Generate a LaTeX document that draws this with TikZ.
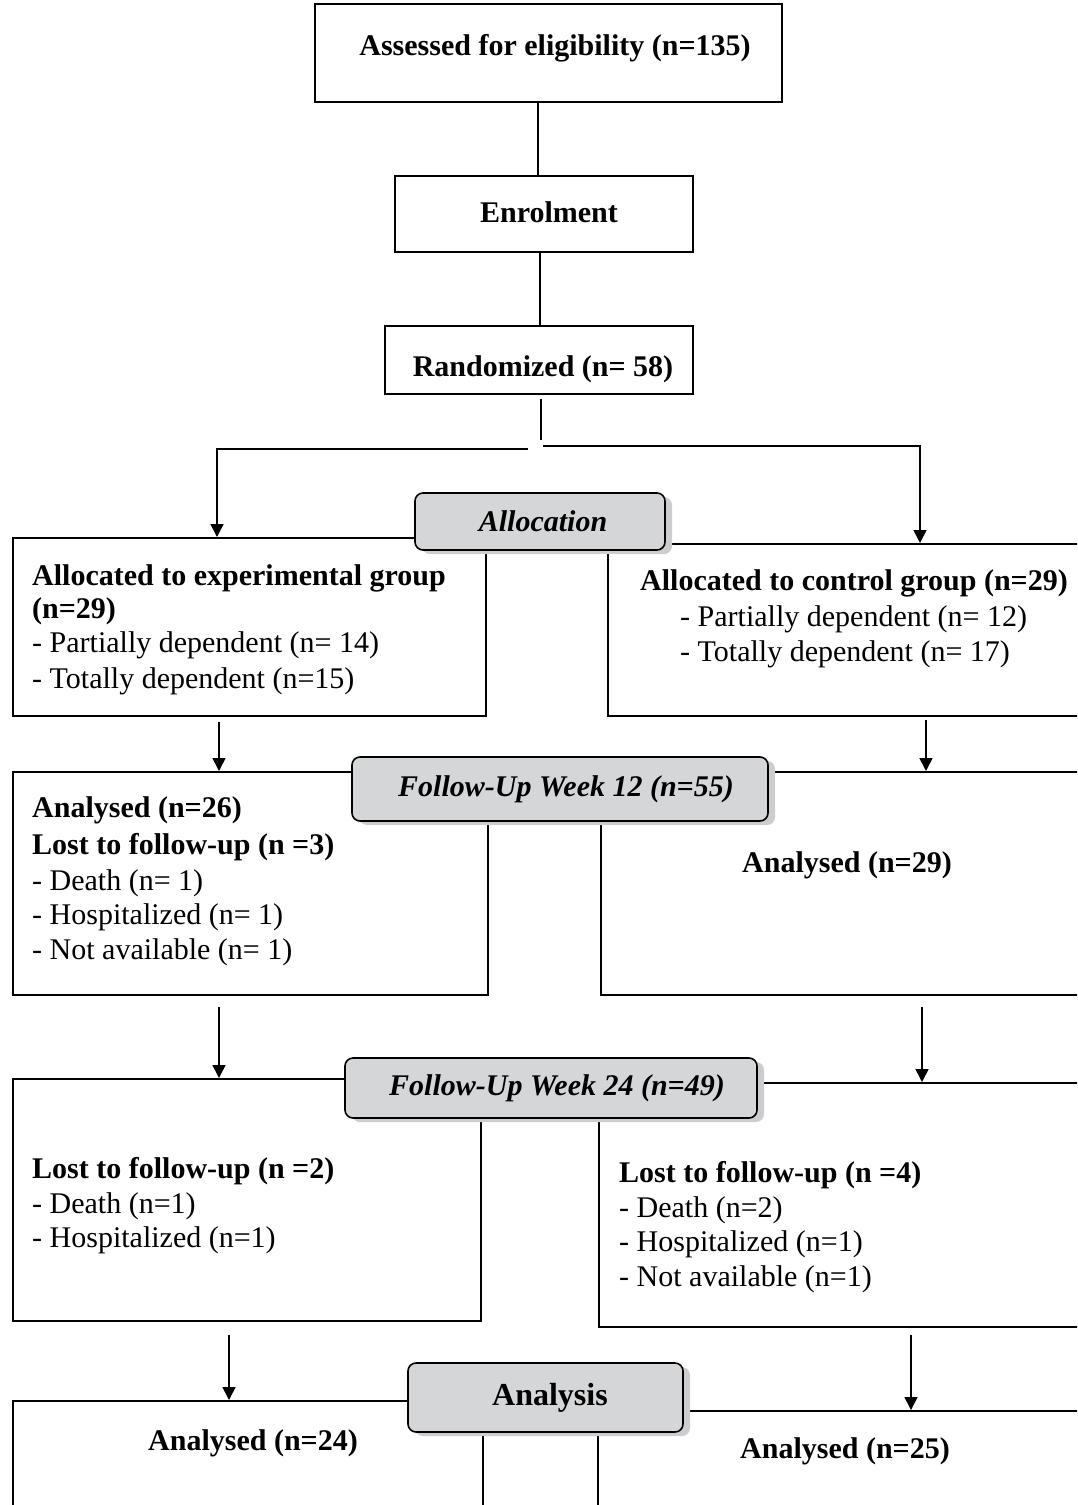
\documentclass[tikz,border=0pt]{standalone}
\usepackage{fontspec}
\setmainfont{Liberation Serif}
\usetikzlibrary{arrows.meta,shadows,calc}
\definecolor{lblfill}{HTML}{D5D6D8}
\definecolor{shadowgray}{HTML}{CDCDCF}
\begin{document}
\begin{tikzpicture}[x=1pt,y=-1pt,
  box/.style={draw,line width=1.6pt,rectangle,inner sep=0pt,anchor=north west},
  lbl/.style={draw,line width=1.6pt,rounded corners=8pt,fill=lblfill,inner sep=0pt,
     drop shadow={shadow xshift=7pt,shadow yshift=-4pt,fill=shadowgray,opacity=1},
     font=\fontsize{30}{35}\selectfont\bfseries\itshape},
  txt/.style={anchor=base west,inner sep=0pt,font=\fontsize{30}{35}\selectfont},
  txtb/.style={txt,font=\fontsize{30}{35}\selectfont\bfseries},
  ctxt/.style={anchor=base,inner sep=0pt,font=\fontsize{30}{35}\selectfont\bfseries},
  conn/.style={line width=1.6pt},
  arr/.style={conn,-{Triangle[length=13pt,width=13pt]}}]
\useasboundingbox (0,0) rectangle (1077,1505);
\clip (0,0) rectangle (1077,1505);
% boxes
\node[box,minimum width=467pt,minimum height=98pt] (A) at (314,3) {};
\node[box,minimum width=298pt,minimum height=76pt] (E) at (394,175) {};
\node[box,minimum width=308pt,minimum height=68pt] (R) at (384,325) {};
\node[box,minimum width=473pt,minimum height=178pt] (L1) at (12,537) {};
\node[box,minimum width=490pt,minimum height=172pt] (R1) at (607,543) {};
\node[box,minimum width=475pt,minimum height=223pt] (L2) at (12,771) {};
\node[box,minimum width=497pt,minimum height=223pt] (R2) at (600,771) {};
\node[box,minimum width=468pt,minimum height=242pt] (L3) at (12,1078) {};
\node[box,minimum width=499pt,minimum height=244pt] (R3) at (598,1082) {};
\node[box,minimum width=470pt,minimum height=130pt] (L4) at (12,1400) {};
\node[box,minimum width=500pt,minimum height=120pt] (R4) at (597,1410) {};
% column coordinates
\coordinate (x538) at (538,0);
\coordinate (x540) at (540,0);
\coordinate (x541) at (541,0);
\coordinate (x217) at (217,0);
\coordinate (x920) at (920,0);
\coordinate (x219) at (219,0);
\coordinate (x926) at (926,0);
\coordinate (x922) at (922,0);
\coordinate (x229) at (229,0);
\coordinate (x911) at (911,0);
\coordinate (sv) at (541,440);
\coordinate (sl) at (528,449);
\coordinate (sr) at (543,446);
% connectors
\draw[conn] (A.south -| x538) -- (E.north -| x538);
\draw[conn] (E.south -| x540) -- (R.north -| x540);
\draw[conn] ($(R.south -| x541)+(0,4)$) -- (sv);
\draw[arr] (sl) -- (sl -| x217) -- (L1.north -| x217);
\draw[arr] (sr) -- (sr -| x920) -- (R1.north -| x920);
\draw[arr] ($(L1.south -| x219)+(0,5)$) -- (L2.north -| x219);
\draw[arr] ($(R1.south -| x926)+(0,3)$) -- (R2.north -| x926);
\draw[arr] ($(L2.south -| x219)+(0,11)$) -- (L3.north -| x219);
\draw[arr] ($(R2.south -| x922)+(0,11)$) -- (R3.north -| x922);
\draw[arr] ($(L3.south -| x229)+(0,13)$) -- (L4.north -| x229);
\draw[arr] ($(R3.south -| x911)+(0,7)$) -- (R4.north -| x911);
% stage labels
\node[lbl,minimum width=250pt,minimum height=57pt] (alloc) at (540,521.5) {\hspace*{6pt}Allocation};
\node[lbl,minimum width=416pt,minimum height=64pt] (fu12) at (560,789) {\hspace*{12pt}Follow-Up Week 12 (n=55)};
\node[lbl,minimum width=412pt,minimum height=60pt] (fu24) at (551,1088) {\hspace*{12pt}Follow-Up Week 24 (n=49)};
\node[lbl,minimum width=275pt,minimum height=69pt,font=\fontsize{32}{38}\selectfont\bfseries] (anl) at (545.5,1397.5) {\hspace*{9pt}Analysis};
% texts
\node[ctxt] (tA) at (555,55) {Assessed for eligibility (n=135)};
\node[ctxt] (tE) at (549,222) {Enrolment};
\node[ctxt] (tR) at (543,376) {Randomized (n= 58)};
\node[txtb] (tL1a) at (32,585) {Allocated to experimental group};
\node[txtb] (tL1b) at (32,618) {(n=29)};
\node[txt] (tL1c) at (32,652) {- Partially dependent (n= 14)};
\node[txt] (tL1d) at (32,688) {- Totally dependent (n=15)};
\node[txtb] (tR1a) at (640,590) {Allocated to control group (n=29)};
\node[txt] (tR1b) at (680,626) {- Partially dependent (n= 12)};
\node[txt] (tR1c) at (680,661) {- Totally dependent (n= 17)};
\node[txtb] (tL2a) at (32,817) {Analysed (n=26)};
\node[txtb] (tL2b) at (32,854) {Lost to follow-up (n =3)};
\node[txt] (tL2c) at (32,890) {- Death (n= 1)};
\node[txt] (tL2d) at (32,924) {- Hospitalized (n= 1)};
\node[txt] (tL2e) at (32,959) {- Not available (n= 1)};
\node[ctxt] (tR2) at (847,872) {Analysed (n=29)};
\node[txtb] (tL3a) at (32,1178) {Lost to follow-up (n =2)};
\node[txt] (tL3b) at (32,1213) {- Death (n=1)};
\node[txt] (tL3c) at (32,1247) {- Hospitalized (n=1)};
\node[txtb] (tR3a) at (619,1182) {Lost to follow-up (n =4)};
\node[txt] (tR3b) at (619,1217) {- Death (n=2)};
\node[txt] (tR3c) at (619,1251) {- Hospitalized (n=1)};
\node[txt] (tR3d) at (619,1286) {- Not available (n=1)};
\node[ctxt] (tL4) at (253,1450) {Analysed (n=24)};
\node[ctxt] (tR4) at (845,1458) {Analysed (n=25)};
\end{tikzpicture}
\end{document}
